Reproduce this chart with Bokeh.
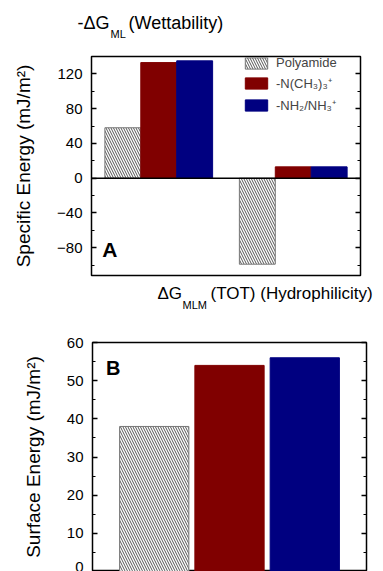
from bokeh.plotting import figure
from bokeh.models import (ColumnDataSource, Range1d, LinearAxis, SingleIntervalTicker,
                          CustomJSTickFormatter, Span, Label, Legend)
from bokeh.layouts import column
from bokeh.transform import dodge
from bokeh.embed import file_html
from bokeh.resources import INLINE

# ---------------- data ----------------
groups_a = [1, 2]                       # -dG_ML (Wettability), dG_MLM (TOT) (Hydrophilicity)
polyamide_a = [58, -99]
nme3_a = [133, 13]
nh2_a = [135, 13]

samples_b = [1, 2, 3]
surface_energy_b = [38, 54, 56]

series_labels = ["Polyamide", "-N(CH\u2083)\u2083\u207a", "-NH\u2082/NH\u2083\u207a"]

RED = "#800000"
BLUE = "#000080"
FONT = "Liberation Sans"
HATCH = "#555555"


def style(p, interval):
    p.outline_line_color = "black"
    p.outline_line_width = 1.5
    p.xaxis.visible = False
    p.xgrid.visible = False
    p.ygrid.visible = False
    a = p.yaxis[0]
    a.ticker = SingleIntervalTicker(interval=interval, num_minor_ticks=2)
    a.axis_line_color = None
    a.major_tick_in = 5
    a.major_tick_out = 0
    a.minor_tick_in = 3
    a.minor_tick_out = 0
    a.major_tick_line_width = 1.5
    a.major_label_text_font = FONT
    a.major_label_text_font_size = "15px"
    a.major_label_text_color = "black"
    a.major_label_standoff = 9
    a.axis_label_text_font = FONT
    a.axis_label_text_font_size = "19px"
    a.axis_label_text_font_style = "normal"
    a.axis_label_text_color = "black"
    a.axis_label_standoff = 20
    r = LinearAxis(ticker=SingleIntervalTicker(interval=interval, num_minor_ticks=2),
                   formatter=CustomJSTickFormatter(code="return ''"))
    r.axis_line_color = None
    r.major_tick_in = 5
    r.major_tick_out = 0
    r.minor_tick_in = 3
    r.minor_tick_out = 0
    r.major_tick_line_width = 1.5
    r.major_label_standoff = 0
    p.add_layout(r, "right")


def txt(p, x, y, t, size, style="normal"):
    p.add_layout(Label(x=x, y=y, text=t, text_font=FONT,
                       text_font_size=size, text_font_style=style, text_color="black",
                       text_baseline="middle", text_align="left"))


def title_fig(h):
    # frame spans the whole canvas; data x == page pixel x, data y == pixels from bottom
    t = figure(width=383, height=h, output_backend="svg", toolbar_location=None,
               x_range=Range1d(0, 383), y_range=Range1d(0, h), min_border=0)
    t.axis.visible = False
    t.grid.visible = False
    t.outline_line_color = None
    return t


# ---------------- top title: -ΔG_ML (Wettability) ----------------
t1 = title_fig(45)
txt(t1, 77, 23, "-\u0394G", "18px")
txt(t1, 110, 12, "ML", "11px")
txt(t1, 128, 23, "(Wettability)", "18px")

# ---------------- panel A ----------------
src_a = ColumnDataSource(dict(x=groups_a, poly=polyamide_a, nme=nme3_a, nh=nh2_a))

pa = figure(width=383, height=235, output_backend="svg", toolbar_location=None,
            x_range=Range1d(0.5, 2.5), y_range=Range1d(-112, 140),
            min_border_left=91, min_border_right=23, min_border_top=11, min_border_bottom=5)
style(pa, 40)
pa.yaxis[0].axis_label = "Specific Energy (mJ/m\u00b2)"

bw = 0.267
r1 = pa.vbar(x=dodge("x", -bw, range=pa.x_range), top="poly", bottom=0, width=bw, source=src_a,
             fill_color="white", line_color="#777777", line_width=1,
             hatch_pattern="\\", hatch_color=HATCH, hatch_scale=5, hatch_weight=1)
r2 = pa.vbar(x=dodge("x", 0, range=pa.x_range), top="nme", bottom=0, width=bw, source=src_a,
             fill_color=RED, line_color=RED)
r3 = pa.vbar(x=dodge("x", bw, range=pa.x_range), top="nh", bottom=0, width=bw, source=src_a,
             fill_color=BLUE, line_color=BLUE)

pa.add_layout(Span(location=0, dimension="width", line_color="black", line_width=1.5))

legend = Legend(items=[(series_labels[0], [r1]), (series_labels[1], [r2]), (series_labels[2], [r3])],
                location=(151, 161), glyph_width=28, glyph_height=14, label_height=14,
                label_text_font=FONT, label_text_font_size="13px", label_standoff=6,
                spacing=4, padding=0, margin=0, border_line_color=None,
                background_fill_alpha=0)
pa.add_layout(legend)
txt(pa, 0.58, -82, "A", "21px", "bold")

# ---------------- bottom title: ΔG_MLM (TOT) (Hydrophilicity) ----------------
t2 = title_fig(40)
txt(t2, 157, 27, "\u0394G", "17px")
txt(t2, 182, 16, "MLM", "11px")
txt(t2, 210, 27, "(TOT) (Hydrophilicity)", "17px")

# ---------------- panel B ----------------
src_b = ColumnDataSource(dict(x=samples_b, v=surface_energy_b,
                              fill=["white", RED, BLUE],
                              line=["#777777", RED, BLUE],
                              hatch=["\\", " ", " "]))
pb = figure(width=383, height=251, output_backend="svg", toolbar_location=None,
            x_range=Range1d(0.18, 3.82), y_range=Range1d(0, 60),
            min_border_left=92, min_border_right=17, min_border_top=22, min_border_bottom=0)
style(pb, 10)
pb.yaxis[0].axis_label = "Surface Energy (mJ/m\u00b2)"
pb.vbar(x="x", top="v", bottom=0, width=0.92, source=src_b, fill_color="fill",
        line_color="line", line_width=1, hatch_pattern="hatch", hatch_color=HATCH,
        hatch_scale=5, hatch_weight=1)
txt(pb, 0.36, 53.4, "B", "20px", "bold")

layout = column(column(t1), column(pa), column(t2), column(pb), spacing=0)
open("out.html", "w").write(file_html(layout, INLINE))
